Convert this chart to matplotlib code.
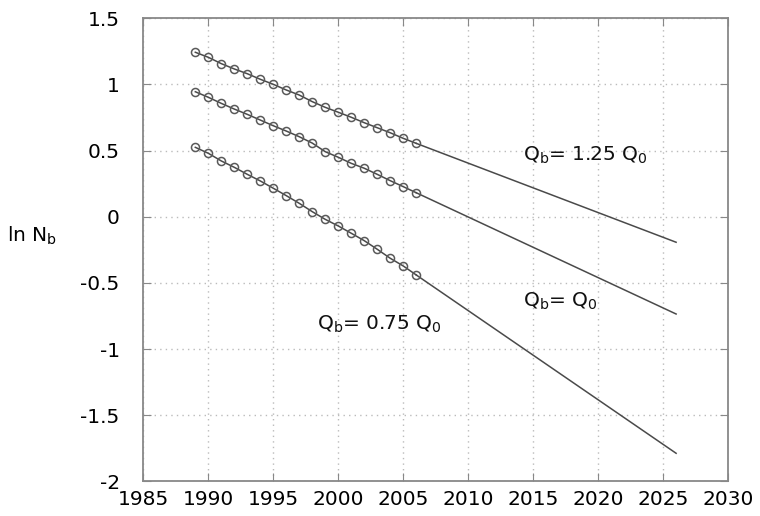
import numpy as np
import matplotlib.pyplot as plt

# observed years and ln N_b for the three scenarios
years = np.arange(1989, 2007)
ln_nb_125 = [1.242, 1.204, 1.156, 1.116, 1.080, 1.038, 1.000, 0.957, 0.919,
             0.869, 0.826, 0.789, 0.751, 0.710, 0.672, 0.634, 0.592, 0.554]
ln_nb_100 = [0.944, 0.902, 0.856, 0.813, 0.773, 0.730, 0.687, 0.647, 0.604,
             0.556, 0.491, 0.449, 0.403, 0.366, 0.320, 0.272, 0.227, 0.181]
ln_nb_075 = [0.524, 0.479, 0.421, 0.373, 0.320, 0.270, 0.215, 0.159, 0.101,
             0.038, -0.020, -0.070, -0.125, -0.181, -0.246, -0.314, -0.372, -0.440]

# projected values at the end of the forecast
proj_year = 2026
proj_end = [-0.193, -0.735, -1.787]

labels = [r'Q$_{\rm b}$= 1.25 Q$_0$', r'Q$_{\rm b}$= Q$_0$', r'Q$_{\rm b}$= 0.75 Q$_0$']
label_pos = [(2014.2, 0.46), (2014.2, -0.64), (1998.4, -0.81)]

plt.rcParams['font.family'] = 'DejaVu Sans'
fig = plt.figure(figsize=(7.6, 5.16), dpi=100)
ax = fig.add_axes([0.1886, 0.0669, 0.7694, 0.898])

line_col = '#4a4a4a'
for series, end, lab, pos in zip([ln_nb_125, ln_nb_100, ln_nb_075], proj_end, labels, label_pos):
    ax.plot([years[-1], proj_year], [series[-1], end], color=line_col, lw=1.1)
    ax.plot(years, series, color=line_col, lw=1.1, marker='o', markersize=5.8,
            markerfacecolor='none', markeredgecolor='#5a5a5a', markeredgewidth=1.1)
    ax.text(pos[0], pos[1], lab, fontsize=14.5, va='center', ha='left', color='#111111')

ax.set_xlim(1985, 2030)
ax.set_ylim(-2, 1.5)
ax.set_xticks(np.arange(1985, 2031, 5))
ax.set_yticks(np.arange(-2, 1.51, 0.5))
ax.set_yticklabels(['-2', '-1.5', '-1', '-0.5', '0', '0.5', '1', '1.5'])

ax.grid(True, color='#bbbbbb', linestyle=(0, (1, 3)), linewidth=1.0)
ax.tick_params(direction='in', top=True, right=True, length=6, color='#888888',
               labelsize=14.5)
ax.tick_params(axis='x', pad=6)
ax.tick_params(axis='y', pad=17)
for s in ax.spines.values():
    s.set_color('#888888')
    s.set_linewidth(1.3)

ax.set_ylabel(r'ln N$_{\rm b}$', fontsize=14.5, rotation=0, labelpad=0)
ax.yaxis.set_label_coords(-0.19, 0.505)

fig.savefig('out.png', dpi=100)
